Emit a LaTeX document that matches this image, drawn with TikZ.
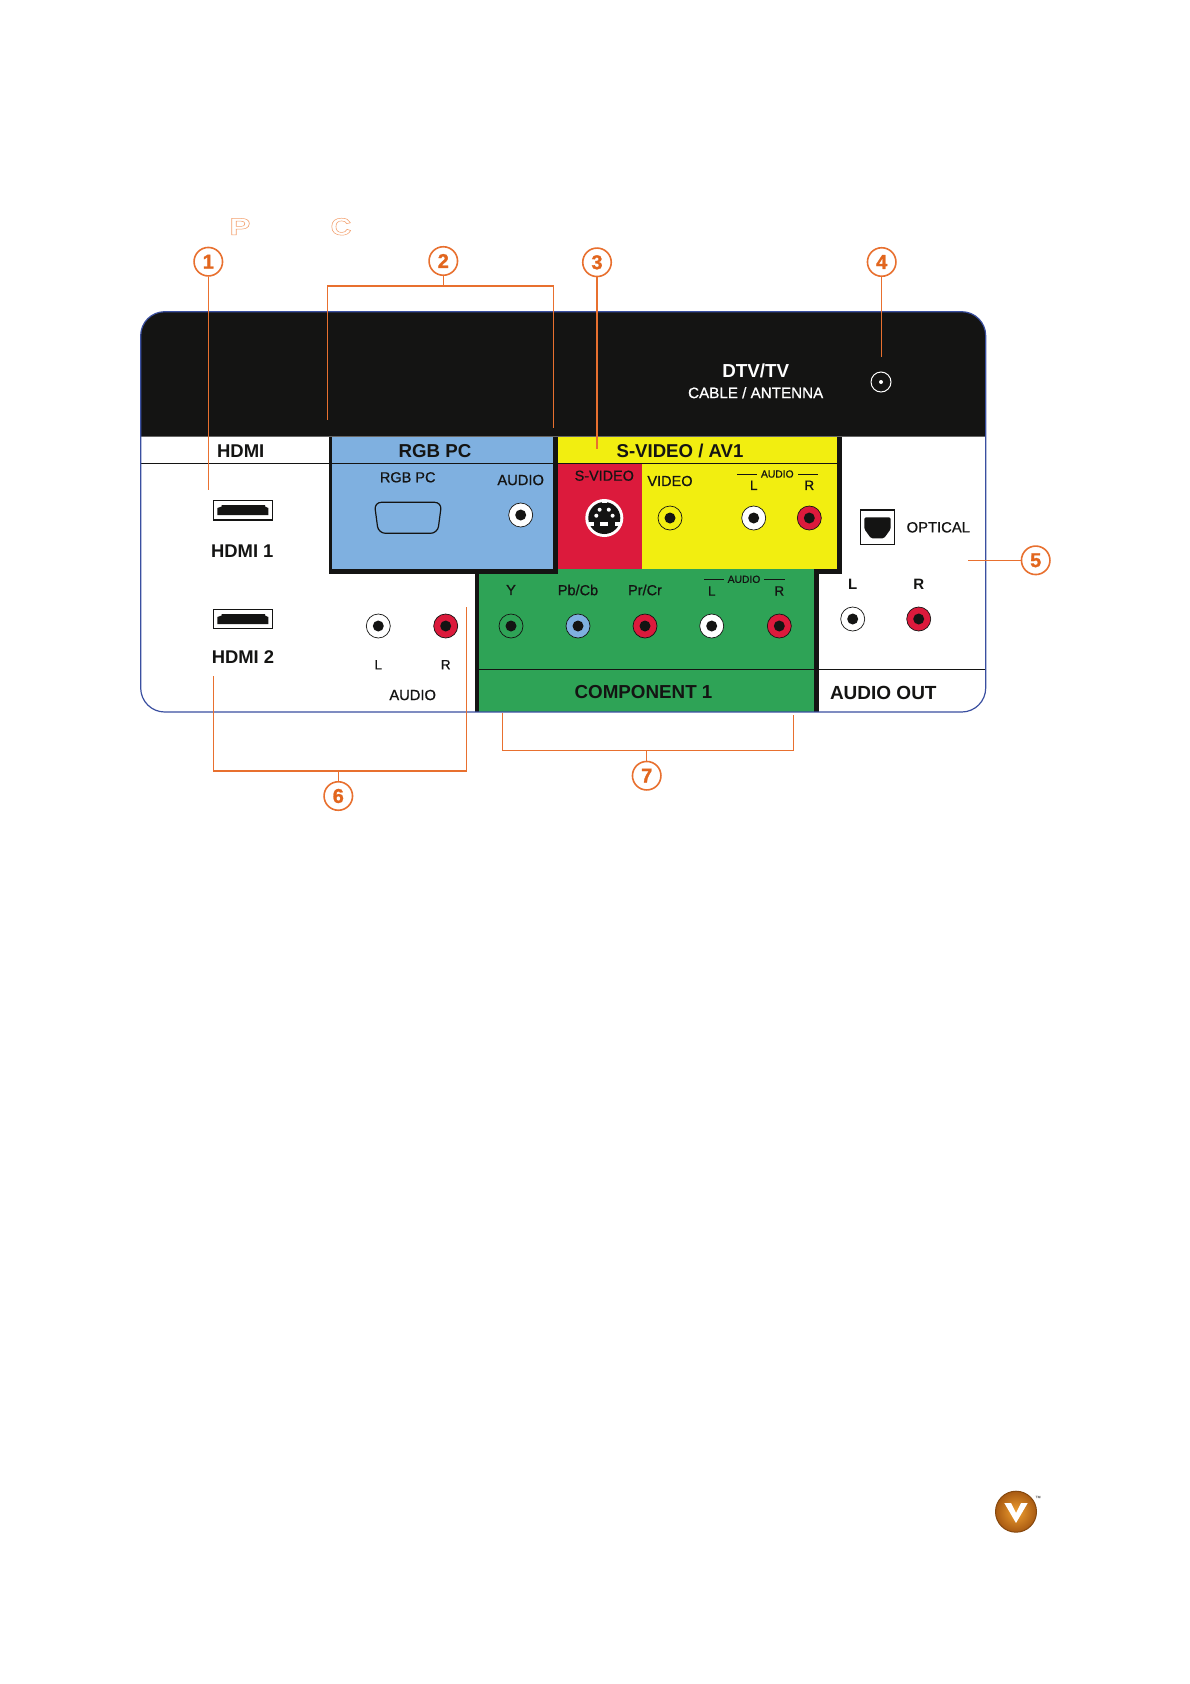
\documentclass[tikz,border=0pt]{standalone}
\usepackage{fontspec}
\setmainfont{Liberation Sans}
\newfontfamily\medfont{Liberation Sans}[FakeBold=0.8]
\newfontfamily\heavyfont{Liberation Sans Bold}[FakeBold=1.2]
\definecolor{ink}{HTML}{141413}
\definecolor{blueb}{HTML}{7FB0E0}
\definecolor{yell}{HTML}{F2EE10}
\definecolor{redb}{HTML}{DC1A3C}
\definecolor{greenb}{HTML}{2EA356}
\definecolor{orng}{HTML}{E8702F}
\definecolor{digit}{HTML}{E2661E}
\definecolor{edge}{HTML}{3A4FA0}
\newcommand{\ghostglyph}[1]{\special{pdf:code q 1 Tr 0.5 w 0.95 0.62 0.42 RG}#1\special{pdf:code Q}}
\tikzset{
  tb/.style={font=\bfseries\fontsize{#1}{#1}\selectfont,inner sep=0pt,outer sep=0pt,text=ink},
  tr/.style={font=\medfont\fontsize{#1}{#1}\selectfont,inner sep=0pt,outer sep=0pt,text=ink},
  callout/.style={circle,draw=orng,line width=1.6pt,fill=white,minimum size=28.5pt,inner sep=0pt,text=digit,font=\heavyfont\fontsize{20}{20}\selectfont},
  leader/.style={draw=orng,line width=1.5pt},
  jackring/.style={circle,draw=ink,line width=0.7pt,fill=#1,minimum size=24pt,inner sep=0pt},
  jackhole/.style={circle,fill=ink,minimum size=11pt,inner sep=0pt},
  rule/.style={draw=ink,line width=1.1pt},
  thinrule/.style={draw=ink,line width=0.6pt},
  port/.style={draw=ink,line width=1.2pt}
}
\newcommand{\jack}[4]{\node[jackring=#4] (#1) at (#2,#3) {}; \node[jackhole] (#1h) at (#2,#3) {};}
\begin{document}
\begin{tikzpicture}[x=1pt,y=-1pt]
\useasboundingbox (0,0) rectangle (1190,1684);
% panel
\fill[white] (140.7,311.7) [rounded corners=24pt] -- (985.7,311.7) -- (985.7,712) -- (140.7,712) -- cycle;
\fill[ink] (140.7,436.7) [rounded corners=24pt] -- (140.7,311.7) -- (985.7,311.7) [sharp corners] -- (985.7,436.7) -- cycle;
% black frames
\fill[ink] (329,436.7) rectangle (842.3,574);
\fill[ink] (475,569) rectangle (818.7,712);
\fill[blueb] (332.3,436.7) rectangle (553,569);
\fill[yell] (557.7,436.7) rectangle (837.3,569.3);
\fill[redb] (557.7,463.3) rectangle (642.3,569.3);
\fill[greenb] (479.3,574) rectangle (814.3,712);
\fill[greenb] (557.7,569.3) rectangle (814.3,574);
% rules
\draw[rule] (140.7,463.3) -- (842,463.3);
\draw[rule] (479.3,669.3) -- (985.7,669.3);
% border
\draw[edge,line width=1.2pt] (140.7,436.7) [rounded corners=24pt] -- (140.7,311.7) -- (985.7,311.7) -- (985.7,712) -- (140.7,712) -- cycle;
% headers
\node[tb=18.5] (hdmi) at (240.7,450.7) {HDMI};
\node[tb=18.7] (rgbhead) at (435,450.7) {RGB PC};
\node[tb=18.6] (svhead) at (680,451) {S-VIDEO / AV1};
\node[tb=18.8] (comp) at (643.5,692) {COMPONENT 1};
\node[tb=19] (aout) at (883.3,693.3) {AUDIO OUT};
\node[tb=18.8,text=white] (dtv) at (755.7,370.7) {DTV/TV};
\node[tr=15.2,text=white] (cable) at (755.7,392.7) {CABLE / ANTENNA};
% labels
\node[tr=14.5] (rgbl) at (407.7,477.3) {RGB PC};
\node[tr=14.7] (pcaudio) at (520.7,480) {AUDIO};
\node[tr=14.4] (svl) at (604.3,475.7) {S-VIDEO};
\node[tr=14.5] (vidl) at (670,481) {VIDEO};
\node[tr=10.3] (a1) at (777.3,474) {AUDIO};
\node[tr=13.5] (a1l) at (753.7,485.3) {L};
\node[tr=13.5] (a1r) at (809.3,485.3) {R};
\draw[thinrule] (737,474.5) -- (757.3,474.5);
\draw[thinrule] (798.3,474.5) -- (818.3,474.5);
\node[tb=18.4] (h1l) at (242.3,551) {HDMI 1};
\node[tb=18.4] (h2l) at (243,657) {HDMI 2};
\node[tr=13.5] (ll) at (378.3,664.7) {L};
\node[tr=13.5] (lr) at (445.7,664.7) {R};
\node[tr=14.7] (laudio) at (412.7,695) {AUDIO};
\node[tr=14.5] (yl) at (511,590) {Y};
\node[tr=14.5] (pbl) at (578,590) {Pb/Cb};
\node[tr=14.5] (prl) at (645,590) {Pr/Cr};
\node[tr=10.3] (a2) at (744,579.3) {AUDIO};
\node[tr=13.5] (a2l) at (711.7,591) {L};
\node[tr=13.5] (a2r) at (779.3,591) {R};
\draw[thinrule] (704,579.5) -- (724,579.5);
\draw[thinrule] (764,579.5) -- (784.7,579.5);
\node[tr=14.8] (optl) at (938.3,527.3) {OPTICAL};
\node[tb=15] (ol) at (852.7,584.3) {L};
\node[tb=15] (or) at (918.7,584.3) {R};
% jacks
\jack{jpc}{520.7}{515}{white}
\jack{jvid}{670}{518}{yell}
\jack{jl}{753.7}{518}{white}
\jack{jr}{809.3}{518}{redb}
\jack{jhl}{378.3}{626}{white}
\jack{jhr}{445.7}{626}{redb}
\jack{jy}{511}{626}{greenb}
\jack{jpb}{578}{626}{blueb}
\jack{jpr}{645}{626}{redb}
\jack{jcl}{711.7}{626}{white}
\jack{jcr}{779.3}{626}{redb}
\jack{jol}{852.7}{619}{white}
\jack{jor}{918.7}{619}{redb}
% antenna
\node[circle,draw=white,line width=1pt,minimum size=20pt,inner sep=0pt] (ant) at (881,382) {};
\node[circle,fill=white,minimum size=4pt,inner sep=0pt] (antc) at (881,382) {};
% s-video
\node[circle,fill=white,minimum size=38pt,inner sep=0pt] (sv) at (604.3,518) {};
\node[circle,fill=ink,minimum size=32pt,inner sep=0pt] (svb) at (604.3,518) {};
\foreach \dx/\dy in {-4.7/-8.3,4.5/-8.3,-8/-2.3,8.3/-2.3}
  \node[circle,fill=white,minimum size=4pt,inner sep=0pt] at (604.3+\dx,518+\dy) {};
\fill[white] (600.3,521.7) rectangle (608,526.3);
\fill[white] (601.8,500) rectangle (606.8,503);
\fill[white] (589,522) rectangle (594,526);
\fill[white] (614.6,522) rectangle (619.6,526);
% VGA
\draw[port,rounded corners=7pt] (374.3,502.3) -- (441.7,502.3) -- (437.6,533.3) -- (378.4,533.3) -- cycle;
% HDMI ports
\draw[port] (213.7,500.3) rectangle (272.3,520);
\fill[ink] (221.7,505) -- (265,505) -- (265,506.5) -- (268.3,508) -- (268.3,515) -- (217.3,515) -- (217.3,508) -- (221.7,506.5) -- cycle;
\draw[port] (213.7,609.3) rectangle (272.3,628.7);
\fill[ink] (221.7,614) -- (265,614) -- (265,615.5) -- (268.3,617) -- (268.3,624) -- (217.3,624) -- (217.3,617) -- (221.7,615.5) -- cycle;
% optical
\draw[port] (860.7,510) rectangle (894.3,544.3);
\fill[ink,rounded corners=1.5pt] (864.3,517.3) -- (890.7,517.3) -- (890.7,529) -- (884,538.3) -- (871,538.3) -- (864.3,529) -- cycle;
% ghost letters
\node[font=\bfseries\fontsize{24}{24}\selectfont,inner sep=0pt,xscale=1.3] (gp) at (240,226.7) {\ghostglyph{P}};
\node[font=\bfseries\fontsize{24}{24}\selectfont,inner sep=0pt,xscale=1.2] (gc) at (341,226.7) {\ghostglyph{C}};
% callouts
\node[callout] (c1) at (208.3,261.7) {1};
\node[callout] (c2) at (443.3,261) {2};
\node[callout] (c3) at (597,262.3) {3};
\node[callout] (c4) at (881.7,262) {4};
\node[callout] (c5) at (1035.7,560.3) {5};
\node[callout] (c6) at (338.3,796) {6};
\node[callout] (c7) at (646.7,775.7) {7};
\coordinate (e1) at (208.3,490);
\coordinate (b2) at (443.3,286);
\coordinate (e2a) at (327.7,420);
\coordinate (e2b) at (553.3,427.7);
\coordinate (e3) at (597,449);
\coordinate (e4) at (881.7,357.3);
\coordinate (e5) at (968,560.3);
\coordinate (b6) at (338.3,771);
\coordinate (e6a) at (213.7,676);
\coordinate (e6b) at (466.7,607);
\coordinate (b7) at (646.7,750.7);
\coordinate (e7a) at (502.3,712.7);
\coordinate (e7b) at (793.3,715);
\draw[leader] (c1) -- (e1);
\draw[leader] (c2) -- (b2);
\draw[leader] (e2a) |- (b2) -| (e2b);
\draw[leader] (c3) -- (e3);
\draw[leader] (c4) -- (e4);
\draw[leader] (c5) -- (e5);
\draw[leader] (c6) -- (b6);
\draw[leader] (e6a) |- (b6) -| (e6b);
\draw[leader] (c7) -- (b7);
\draw[leader] (e7a) |- (b7) -| (e7b);
% logo
\definecolor{logoin}{HTML}{F0A030}
\definecolor{logoout}{HTML}{A85A12}
\node[circle,inner color=logoin,outer color=logoout,draw=logoout!80!black,line width=1pt,minimum size=41pt,inner sep=0pt] (logo) at (1016,1511.7) {};
\fill[white] (1004.3,1503) -- (1011,1503) -- (1016,1513) -- (1021,1503) -- (1027.7,1503) -- (1016,1523) -- cycle;
\node[tr=3.5,text=gray] (tm) at (1038,1497) {TM};
\end{tikzpicture}
\end{document}
